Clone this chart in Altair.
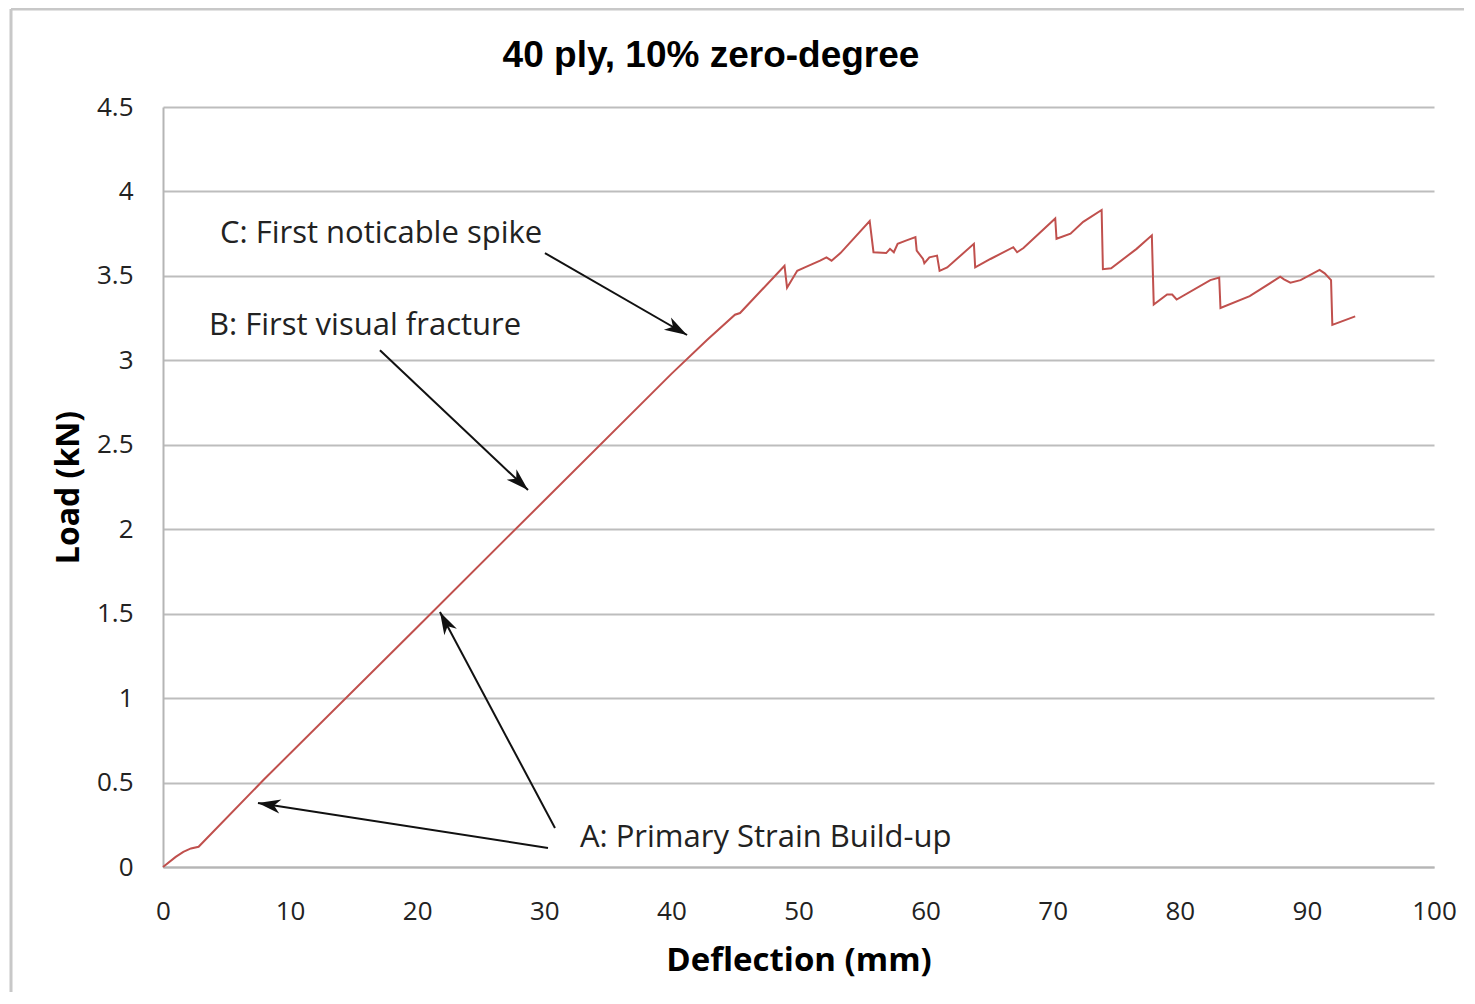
import altair as alt
import pandas as pd

# ---- data ----
deflection = [0, 1.0, 1.6, 2.2, 2.8, 7.9, 20, 30, 40, 42.8, 45.0, 45.4, 48.9, 49.1, 49.9,
              50.5, 51.7, 52.2, 52.6, 53.3, 55.6, 55.9, 56.9, 57.2, 57.5, 57.8, 58.5, 59.2,
              59.3, 59.8, 59.9, 60.3, 60.9, 61.1, 61.7, 63.8, 63.9, 65.1, 66.9, 67.2, 67.7,
              70.2, 70.3, 71.4, 72.4, 73.85, 73.95, 74.6, 76.6, 77.8, 77.95, 79.0, 79.4,
              79.75, 82.4, 83.1, 83.2, 85.5, 87.9, 88.2, 88.7, 89.5, 91.0, 91.4, 91.9, 92.0, 93.8]
load = [0, 0.06, 0.09, 0.11, 0.12, 0.515, 1.42, 2.17, 2.92, 3.12, 3.27, 3.28, 3.56, 3.43, 3.53,
        3.55, 3.59, 3.61, 3.59, 3.635, 3.825, 3.64, 3.635, 3.66, 3.64, 3.69, 3.71, 3.73,
        3.65, 3.60, 3.575, 3.61, 3.62, 3.53, 3.55, 3.69, 3.55, 3.60, 3.67, 3.64, 3.665,
        3.84, 3.72, 3.75, 3.82, 3.89, 3.54, 3.545, 3.66, 3.74, 3.33, 3.39, 3.39,
        3.36, 3.475, 3.49, 3.31, 3.38, 3.495, 3.48, 3.46, 3.475, 3.535, 3.515, 3.475, 3.21, 3.26]

x_ticks = [0, 10, 20, 30, 40, 50, 60, 70, 80, 90, 100]
y_ticks = [0, 0.5, 1, 1.5, 2, 2.5, 3, 3.5, 4, 4.5]

chart_title = ["40 ply, 10% zero-degree"]

ann_text = ["C: First noticable spike", "B: First visual fracture", "A: Primary Strain Build-up"]
ann_x = [4.48, 3.62, 32.8]
ann_y = [3.694, 3.150, 0.1165]

arrow_x1 = [30.05, 17.07, 30.29, 30.84]
arrow_y1 = [3.635, 3.06, 0.1125, 0.231]
arrow_x2 = [41.23, 28.72, 7.47, 21.79]
arrow_y2 = [3.15, 2.232, 0.379, 1.51]
arrow_angle = [120, 133.4, 278.8, 332]

curve = pd.DataFrame({"x": deflection, "y": load, "order": range(len(deflection))})
ann = pd.DataFrame({"text": ann_text, "x": ann_x, "y": ann_y})
arrows = pd.DataFrame({"x1": arrow_x1, "y1": arrow_y1, "x2": arrow_x2, "y2": arrow_y2,
                       "angle": arrow_angle})
title_df = pd.DataFrame({"text": chart_title})

W, H = 1271, 760
FONT = "Open Sans"

xscale = alt.Scale(domain=[0, 100], nice=False, zero=False)
yscale = alt.Scale(domain=[0, 4.5], nice=False)

line = alt.Chart(curve).mark_line(color="#c0504d", strokeWidth=2).encode(
    x=alt.X("x:Q", scale=xscale,
            axis=alt.Axis(title="Deflection (mm)", values=x_ticks, grid=False, ticks=False,
                          labelFlush=False,
                          domainColor="#b5b5b5", domainWidth=2, labelPadding=31,
                          labelFont=FONT, labelFontSize=26, labelColor="#222",
                          titleFont=FONT, titleFontSize=33, titleFontWeight="bold",
                          titleColor="#000", titleY=93, titleBaseline="middle")),
    y=alt.Y("y:Q", scale=yscale,
            axis=alt.Axis(title="Load (kN)", values=y_ticks, grid=True, gridColor="#bdbdbd",
                          gridWidth=2, ticks=False, domainColor="#b5b5b5", domainWidth=2,
                          format=".1~f", labelFlush=False,
                          labelPadding=30, labelFont=FONT, labelFontSize=26, labelColor="#222",
                          labelBaseline="middle",
                          titleFont=FONT, titleFontSize=32, titleFontWeight="bold",
                          titleColor="#000", titleX=-95, titleY=H / 2, titleAngle=-90,
                          titleBaseline="middle", titleAlign="center")),
    order="order:Q",
)

texts = alt.Chart(ann).mark_text(align="left", baseline="alphabetic", font=FONT,
                                 fontSize=31, color="#222").encode(
    x=alt.X("x:Q", scale=xscale), y=alt.Y("y:Q", scale=yscale), text="text:N")

shafts = alt.Chart(arrows).mark_rule(color="#111", strokeWidth=2).encode(
    x=alt.X("x1:Q", scale=xscale), y=alt.Y("y1:Q", scale=yscale),
    x2="x2:Q", y2="y2:Q")

heads = alt.Chart(arrows).mark_point(
    shape="M0,0L0.5,1.6L0,1.15L-0.5,1.6Z", filled=True, color="#111", opacity=1,
    size=800, strokeWidth=0).encode(
    x=alt.X("x2:Q", scale=xscale), y=alt.Y("y2:Q", scale=yscale),
    angle=alt.Angle("angle:Q", scale=None))

title_mark = alt.Chart(title_df).mark_text(
    align="center", baseline="alphabetic", font="Liberation Sans", fontSize=37,
    fontWeight="bold", color="#000").encode(
    x=alt.value(548), y=alt.value(-40), text="text:N")

frame_left = alt.Chart(title_df).mark_rule(color="#c8c8c8", strokeWidth=3).encode(
    x=alt.value(-152), y=alt.value(-98), y2=alt.value(H + 125))
frame_top = alt.Chart(title_df).mark_rule(color="#c8c8c8", strokeWidth=3).encode(
    x=alt.value(-152), x2=alt.value(W + 30), y=alt.value(-98))

chart = alt.layer(frame_left, frame_top, line, shafts, heads, texts, title_mark).properties(
    width=W, height=H,
    autosize=alt.AutoSizeParams(type="none"),
    padding={"left": 155, "top": 99, "right": 30, "bottom": 125},
).configure_view(stroke=None)

chart.save("out.html", embed_options={"renderer": "svg", "actions": False})
